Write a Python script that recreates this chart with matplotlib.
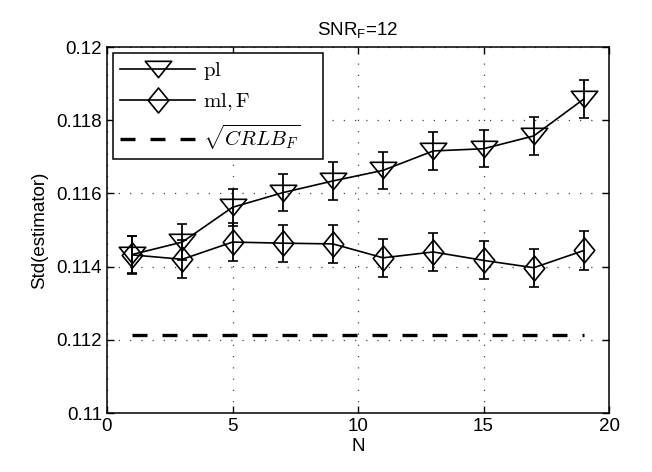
import matplotlib
matplotlib.use("Agg")
import matplotlib.pyplot as plt
from matplotlib.font_manager import FontProperties
from matplotlib.path import Path
from matplotlib.lines import Line2D
import numpy as np

plt.rcParams['font.family'] = ['Liberation Sans', 'DejaVu Sans']
plt.rcParams['mathtext.fontset'] = 'custom'
plt.rcParams['mathtext.rm'] = 'Liberation Sans'
plt.rcParams['mathtext.it'] = 'Liberation Sans:italic'

# data
N = [1, 3, 5, 7, 9, 11, 13, 15, 17, 19]
pl = [0.11433, 0.11467, 0.11562, 0.11602, 0.11634, 0.11663, 0.11716, 0.11722, 0.11757, 0.11858]
pl_err = [0.00051, 0.00050, 0.00051, 0.00051, 0.00051, 0.00051, 0.00051, 0.00051, 0.00052, 0.00051]
ml = [0.11432, 0.11420, 0.11467, 0.11464, 0.11462, 0.11424, 0.11440, 0.11417, 0.11397, 0.11444]
ml_err = [0.00052, 0.00052, 0.00052, 0.00051, 0.00052, 0.00052, 0.00052, 0.00052, 0.00052, 0.00052]
crlb = [0.11212] * len(N)

labels = [r'$\mathrm{pl}$', r'$\mathrm{ml,F}$', r'$\sqrt{CRLB_F}$']
xticks = [0, 5, 10, 15, 20]
yticks = [0.11, 0.112, 0.114, 0.116, 0.118, 0.12]
ytick_labels = ['0.11', '0.112', '0.114', '0.116', '0.118', '0.12']

fig = plt.figure(figsize=(6.52, 4.72), dpi=100)
ax = fig.add_axes([107/652, 1 - 413/472, 502/652, 366/472])

tri = Path([(-1, 0.62), (1, 0.62), (0, -0.62), (-1, 0.62)],
           [Path.MOVETO, Path.LINETO, Path.LINETO, Path.CLOSEPOLY])
dia = Path([(0, 1), (0.82, 0), (0, -1), (-0.82, 0), (0, 1)],
           [Path.MOVETO, Path.LINETO, Path.LINETO, Path.LINETO, Path.CLOSEPOLY])

lw = 1.2
ax.errorbar(N, pl, yerr=pl_err, color='black', lw=lw, marker=tri, ms=19,
            mfc='none', mec='black', mew=lw, capsize=3.5, elinewidth=1.3,
            capthick=1.3, zorder=3)
ax.errorbar(N, ml, yerr=ml_err, color='black', lw=lw, marker=dia, ms=18,
            mfc='none', mec='black', mew=lw, capsize=3.5, elinewidth=1.3,
            capthick=1.3, zorder=3)
ax.plot(N, crlb, color='black', lw=2.4, linestyle=(0, (4.5, 4.5)), zorder=3)

ax.set_xlim(0, 20)
ax.set_ylim(0.11, 0.12)
ax.set_xticks(xticks)
ax.set_yticks(yticks)
ax.set_yticklabels(ytick_labels)
ax.tick_params(direction='in', top=True, right=True, labelsize=13.5, length=5, width=1)
for s in ax.spines.values():
    s.set_linewidth(1.1)
ax.grid(True, color='#444444', linestyle=(0, (1, 8)), linewidth=0.9)
ax.set_axisbelow(True)

ax.set_xlabel('N', fontsize=13.5, labelpad=2)
ax.set_ylabel('Std(estimator)', fontsize=13.5, labelpad=6)
ax.set_title(r'SNR$_{\mathrm{F}}$=12', fontsize=13.5, pad=9)

handles = [
    Line2D([], [], color='black', lw=lw, marker=tri, ms=19, mfc='none', mec='black', mew=lw),
    Line2D([], [], color='black', lw=lw, marker=dia, ms=18, mfc='none', mec='black', mew=lw),
    Line2D([], [], color='black', lw=2.4, linestyle=(0, (4.5, 4.5))),
]
leg = ax.legend(handles, labels, loc='upper left', bbox_to_anchor=(0.012, 0.684, 0.418, 0.30),
                mode='expand', prop=FontProperties(family='DejaVu Serif', size=15, math_fontfamily='cm'),
                handlelength=3.6, handletextpad=0.35, borderaxespad=0,
                fancybox=False, framealpha=1, edgecolor='black', labelspacing=0.45,
                borderpad=0.35)
leg.get_frame().set_linewidth(1.1)

fig.savefig('out.png', dpi=100)
